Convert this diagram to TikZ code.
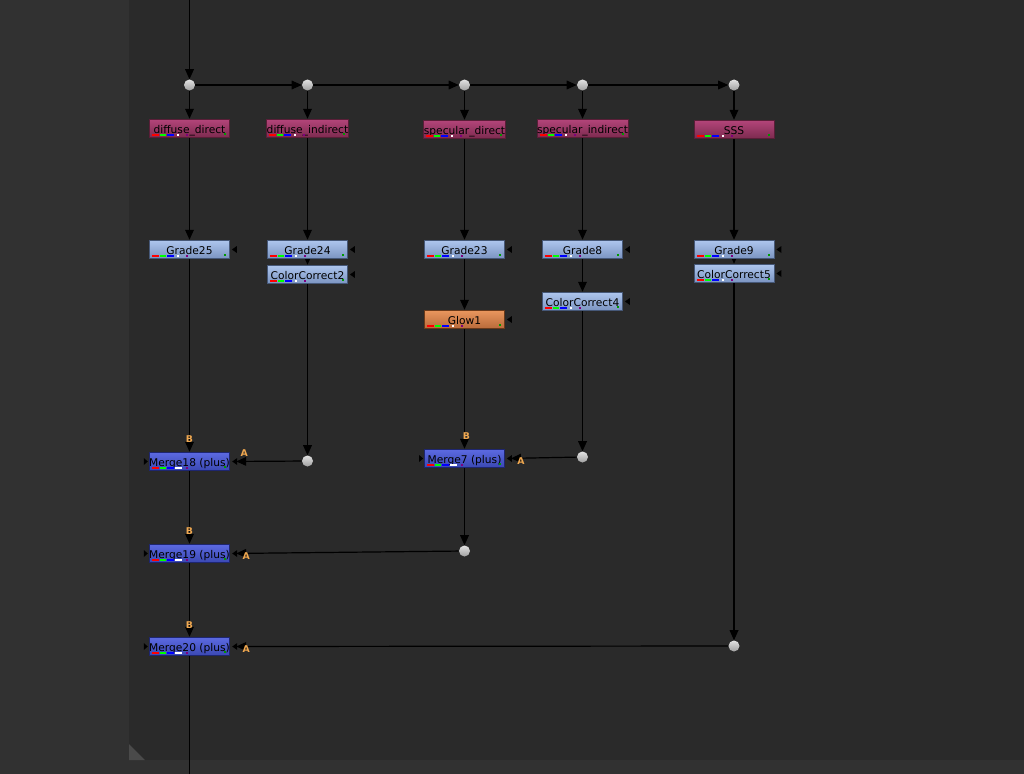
\documentclass[tikz,border=0pt]{standalone}
\usepackage{fontspec}
\setmainfont{DejaVu Sans}
\usetikzlibrary{arrows.meta, calc}
\definecolor{bgmain}{HTML}{2A2A2A}
\definecolor{bgside}{HTML}{313131}
\definecolor{gripgray}{HTML}{4A4A4A}
\definecolor{readtop}{HTML}{B4457A}
\definecolor{readbot}{HTML}{7C2A4E}
\definecolor{readedge}{HTML}{5A1E38}
\definecolor{gradetop}{HTML}{AEC6EE}
\definecolor{gradebot}{HTML}{7A93C0}
\definecolor{gradeedge}{HTML}{465878}
\definecolor{glowtop}{HTML}{EA975E}
\definecolor{glowbot}{HTML}{B86A3A}
\definecolor{glowedge}{HTML}{6A3A1A}
\definecolor{mergetop}{HTML}{5C6AE2}
\definecolor{mergebot}{HTML}{3A48B2}
\definecolor{mergeedge}{HTML}{1E2670}
\definecolor{dotlight}{HTML}{E2E2E2}
\definecolor{dotdark}{HTML}{A0A0A0}
\definecolor{inputorange}{HTML}{F0A850}
\pgfdeclarelayer{back}
\pgfdeclarelayer{wires}
\pgfsetlayers{back,wires,main}
\tikzset{
  nukenode/.style={draw=#1, line width=0.6pt, minimum width=60pt, minimum height=14pt, inner sep=0pt,
    font=\fontsize{8}{9}\selectfont, text=black, text height=8pt, text depth=0pt},
  readnode/.style={nukenode=readedge, top color=readtop, bottom color=readbot},
  gradenode/.style={nukenode=gradeedge, top color=gradetop, bottom color=gradebot},
  glownode/.style={nukenode=glowedge, top color=glowtop, bottom color=glowbot},
  mergenode/.style={nukenode=mergeedge, top color=mergetop, bottom color=mergebot},
  dotnode/.style={circle, inner sep=0pt, minimum size=8.25pt, top color=dotlight, bottom color=dotdark},
  wire/.style={draw=black, line width=0.9pt, -{Triangle[length=7.5pt,width=6.5pt]}},
  inwire/.style={wire, shorten >=4.5pt},
  inlab/.style={font=\bfseries\fontsize{7}{8}\selectfont, text=inputorange, inner sep=0pt},
}
\newcommand\chanbar[3]{%
  \fill[red] ($(#1.south west)+(3,-4.5)$) rectangle +(7,2.5);
  \fill[green] ($(#1.south west)+(11,-4.5)$) rectangle +(6,2.5);
  \fill[blue] ($(#1.south west)+(18,-4.5)$) rectangle +(7,2.5);
  \fill[white] ($(#1.south west)+(#2,-4.5)$) rectangle +(#3,2.5);
  \fill[violet] ($(#1.south west)+(37,-4.5)$) rectangle +(2,2.5);
  \fill[green!60!black] ($(#1.south east)+(-6,-5)$) rectangle +(2,2);
}
\newcommand\maskin[1]{\fill[black] ($(#1.east)+(2,0)$) -- ++(5,-3.5) -- ++(0,7) -- cycle;}
\newcommand\leftin[1]{\fill[black] ($(#1.west)+(-1,0)$) -- ++(-4,-3.5) -- ++(0,7) -- cycle;}

\begin{document}
\begin{tikzpicture}[x=0.75pt, y=-0.75pt]
\useasboundingbox (0,0) rectangle (1024,774);
\begin{pgfonlayer}{back}
\fill[bgside] (0,0) rectangle (1024,774);
\fill[bgmain] (129,0) rectangle (1024,760);
\fill[gripgray] (129,744) -- (129,760) -- (145,760) -- cycle;
\end{pgfonlayer}

\coordinate (top) at (189.5,0);
\coordinate (bottom) at (189.5,774);

\node[dotnode] (d1) at (189.5,85) {};
\node[dotnode] (d2) at (307.5,85) {};
\node[dotnode] (d3) at (464.5,85) {};
\node[dotnode] (d4) at (582.5,85) {};
\node[dotnode] (d5) at (734,85) {};

\node[readnode] (diffdir) at (189.5,128.5) {diffuse\_direct};
\node[readnode] (diffind) at (307.5,128.5) {diffuse\_indirect};
\node[readnode] (specdir) at (464.5,129.5) {specular\_direct};
\node[readnode] (specind) at (582.5,128.5) {specular\_indirect};
\node[readnode] (sss) at (734,129.5) {SSS};

\node[gradenode] (g25) at (189.5,249.5) {Grade25};
\node[gradenode] (g24) at (307.5,249.5) {Grade24};
\node[gradenode] (cc2) at (307.5,274.5) {ColorCorrect2};
\node[gradenode] (g23) at (464.5,249.5) {Grade23};
\node[glownode] (glow1) at (464.5,319.5) {Glow1};
\node[gradenode] (g8) at (582.5,249.5) {Grade8};
\node[gradenode] (cc4) at (582.5,301.5) {ColorCorrect4};
\node[gradenode] (g9) at (734,249.5) {Grade9};
\node[gradenode] (cc5) at (734,273.5) {ColorCorrect5};

\node[mergenode] (m18) at (189.5,461.5) {Merge18 (plus)};
\node[mergenode] (m7) at (464.5,458.5) {Merge7 (plus)};
\node[mergenode] (m19) at (189.5,553.5) {Merge19 (plus)};
\node[mergenode] (m20) at (189.5,646.5) {Merge20 (plus)};

\node[dotnode] (d6) at (307.5,461) {};
\node[dotnode] (d7) at (582.5,457) {};
\node[dotnode] (d8) at (464.5,551) {};
\node[dotnode] (d9) at (734,646) {};

\foreach \n in {diffdir,diffind,specdir,specind,sss,g25,g24,cc2,g23,glow1,g8,cc4,g9,cc5}
  \chanbar{\n}{28}{2};
\foreach \n in {m18,m7,m19,m20}
  \chanbar{\n}{26}{7};
\foreach \n in {g25,g24,cc2,g23,glow1,g8,cc4,g9,cc5,m18,m7,m19,m20}
  \maskin{\n};
\foreach \n in {m18,m7,m19,m20}
  \leftin{\n};

\path
($(m18.north)+(0,-13)$) node[inlab]{B};
\path
($(m18.east)+(14,-8)$) node[inlab]{A};
\path
($(m7.north)+(2,-13)$) node[inlab]{B};
\path
($(m7.east)+(16,3)$) node[inlab]{A};
\path
($(m19.north)+(0,-13)$) node[inlab]{B};
\path
($(m19.east)+(16,3)$) node[inlab]{A};
\path
($(m20.north)+(0,-12)$) node[inlab]{B};
\path
($(m20.east)+(16,3)$) node[inlab]{A};

\begin{pgfonlayer}{wires}
\draw[wire] (top) -- (d1);
\draw[wire] (d1) -- (d2);
\draw[wire] (d2) -- (d3);
\draw[wire] (d3) -- (d4);
\draw[wire] (d4) -- (d5);
\draw[wire] (d1) -- (diffdir);
\draw[wire] (d2) -- (diffind);
\draw[wire] (d3) -- (specdir);
\draw[wire] (d4) -- (specind);
\draw[wire] (d5) -- (sss);
\draw[wire] (diffdir) -- (g25);
\draw[wire] (diffind) -- (g24);
\draw[wire] (g24) -- (cc2);
\draw[wire] (cc2) -- (d6);
\draw[wire] (specdir) -- (g23);
\draw[wire] (g23) -- (glow1);
\draw[wire] (specind) -- (g8);
\draw[wire] (g8) -- (cc4);
\draw[wire] (cc4) -- (d7);
\draw[wire] (sss) -- (g9);
\draw[wire] (g9) -- (cc5);
\draw[wire] (cc5) -- (d9);
\draw[wire] (g25) -- (m18);
\draw[inwire] (d6) -- (m18.east);
\draw[wire] (glow1) -- (m7);
\draw[inwire] (d7) -- (m7.east);
\draw[wire] (m7) -- (d8);
\draw[wire] (m18) -- (m19);
\draw[inwire] (d8) -- (m19.east);
\draw[wire] (m19) -- (m20);
\draw[inwire] (d9) -- (m20.east);
\draw[draw=black, line width=0.9pt] (m20) -- (bottom);
\end{pgfonlayer}
\end{tikzpicture}
\end{document}
